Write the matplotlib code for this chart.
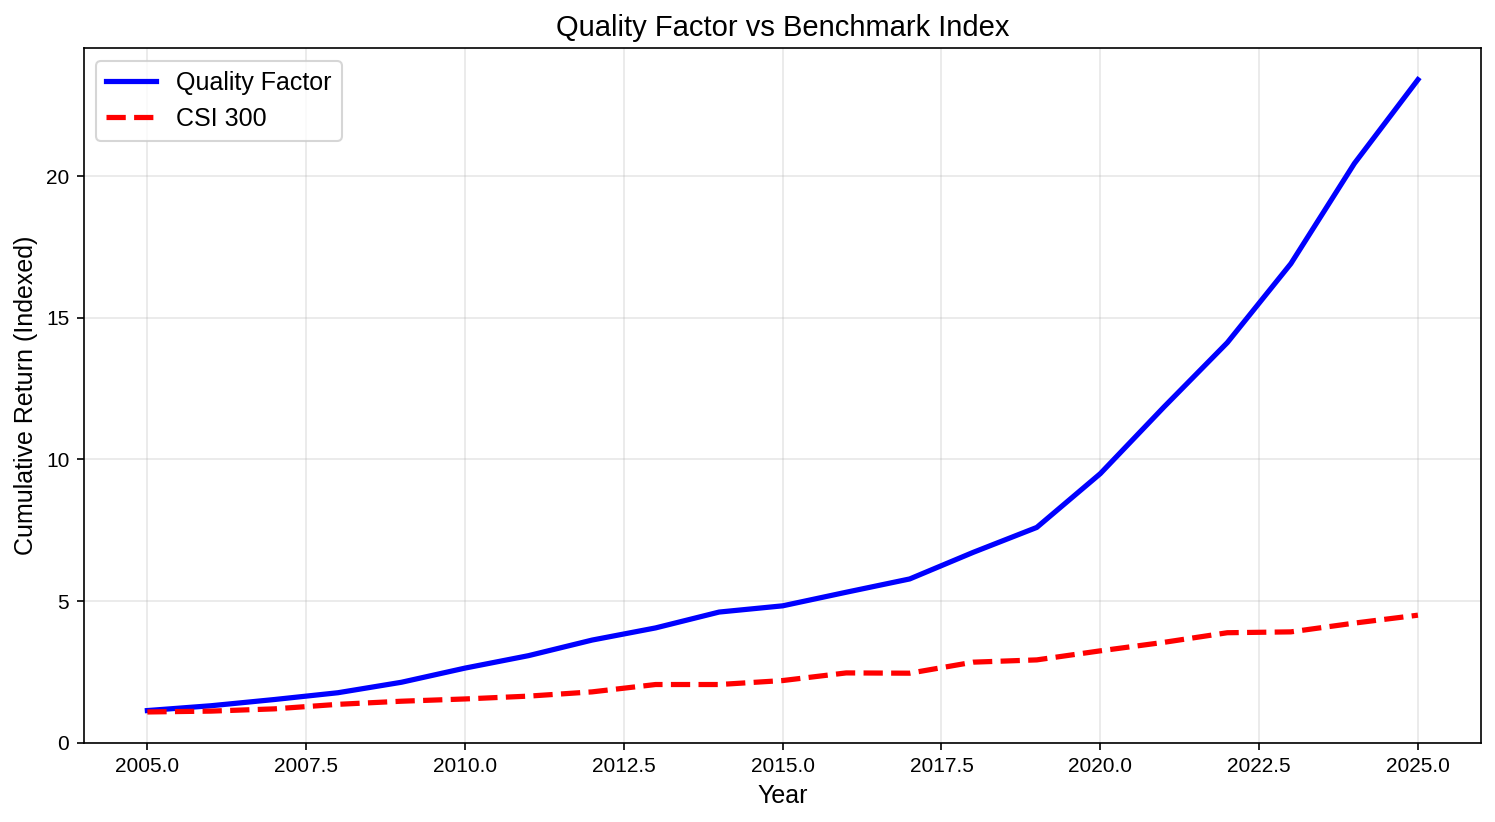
import numpy as np
import matplotlib
matplotlib.use("Agg")
import matplotlib.pyplot as plt

plt.rcParams['font.family'] = ['Liberation Sans', 'DejaVu Sans']

# data
years = [2005, 2006, 2007, 2008, 2009, 2010, 2011, 2012, 2013, 2014, 2015,
         2016, 2017, 2018, 2019, 2020, 2021, 2022, 2023, 2024, 2025]
quality = [1.13, 1.30, 1.52, 1.76, 2.13, 2.63, 3.07, 3.62, 4.05, 4.61, 4.83,
           5.31, 5.78, 6.72, 7.60, 9.50, 11.85, 14.13, 16.92, 20.46, 23.42]
csi300 = [1.08, 1.11, 1.19, 1.35, 1.46, 1.54, 1.64, 1.79, 2.05, 2.05, 2.19,
          2.46, 2.45, 2.84, 2.92, 3.24, 3.54, 3.88, 3.91, 4.22, 4.50]

fig, ax = plt.subplots(figsize=(1495 / 150, 822 / 150), dpi=150)
ax.plot(years, quality, color='blue', lw=2.5, label='Quality Factor')
ax.plot(years, csi300, color='red', lw=2.5, ls='--', label='CSI 300')

ax.set_title('Quality Factor vs Benchmark Index', fontsize=14)
ax.set_xlabel('Year', fontsize=12)
ax.set_ylabel('Cumulative Return (Indexed)', fontsize=12)
ax.set_ylim(0, None)
ax.grid(True, alpha=0.3)
ax.legend(loc='upper left', fontsize=12)

plt.tight_layout(pad=0.65)
plt.savefig('out.png', dpi=150)
